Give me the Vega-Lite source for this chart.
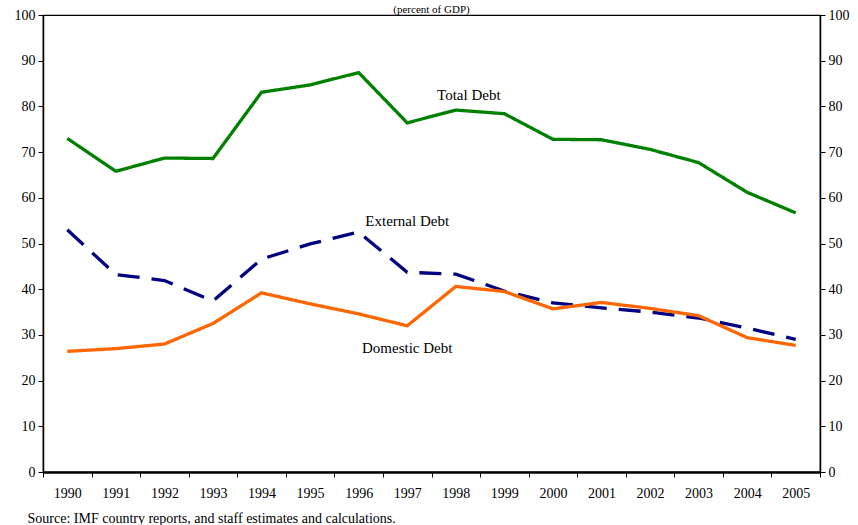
{
  "$schema": "https://vega.github.io/schema/vega-lite/v6.json",
  "width": 777,
  "height": 457,
  "autosize": {"type": "none"},
  "padding": {"left": 43, "top": 15, "right": 38, "bottom": 53},
  "background": "white",
  "config": {
    "font": "Liberation Serif",
    "view": {"stroke": "black", "strokeWidth": 1.2},
    "axis": {"labelFont": "Liberation Serif", "labelFontSize": 14, "labelColor": "black", "domainColor": "black", "tickColor": "black", "grid": false}
  },
  "title": {"text": "(percent of GDP)", "fontSize": 11, "fontWeight": "normal", "font": "Liberation Serif", "color": "black", "offset": -18, "baseline": "bottom"},
  "datasets": {
    "debt": [
      {"year": "1990", "series": "Total Debt", "value": 73.0},
      {"year": "1991", "series": "Total Debt", "value": 65.8},
      {"year": "1992", "series": "Total Debt", "value": 68.7},
      {"year": "1993", "series": "Total Debt", "value": 68.6},
      {"year": "1994", "series": "Total Debt", "value": 83.1},
      {"year": "1995", "series": "Total Debt", "value": 84.7},
      {"year": "1996", "series": "Total Debt", "value": 87.4},
      {"year": "1997", "series": "Total Debt", "value": 76.4},
      {"year": "1998", "series": "Total Debt", "value": 79.2},
      {"year": "1999", "series": "Total Debt", "value": 78.4},
      {"year": "2000", "series": "Total Debt", "value": 72.8},
      {"year": "2001", "series": "Total Debt", "value": 72.7},
      {"year": "2002", "series": "Total Debt", "value": 70.6},
      {"year": "2003", "series": "Total Debt", "value": 67.7},
      {"year": "2004", "series": "Total Debt", "value": 61.2},
      {"year": "2005", "series": "Total Debt", "value": 56.7},
      {"year": "1990", "series": "External Debt", "value": 53.0},
      {"year": "1991", "series": "External Debt", "value": 43.2},
      {"year": "1992", "series": "External Debt", "value": 41.9},
      {"year": "1993", "series": "External Debt", "value": 37.4},
      {"year": "1994", "series": "External Debt", "value": 46.6},
      {"year": "1995", "series": "External Debt", "value": 49.9},
      {"year": "1996", "series": "External Debt", "value": 52.5},
      {"year": "1997", "series": "External Debt", "value": 43.7},
      {"year": "1998", "series": "External Debt", "value": 43.3},
      {"year": "1999", "series": "External Debt", "value": 39.6},
      {"year": "2000", "series": "External Debt", "value": 37.0},
      {"year": "2001", "series": "External Debt", "value": 35.9},
      {"year": "2002", "series": "External Debt", "value": 35.0},
      {"year": "2003", "series": "External Debt", "value": 33.7},
      {"year": "2004", "series": "External Debt", "value": 31.5},
      {"year": "2005", "series": "External Debt", "value": 29.0},
      {"year": "1990", "series": "Domestic Debt", "value": 26.4},
      {"year": "1991", "series": "Domestic Debt", "value": 27.0},
      {"year": "1992", "series": "Domestic Debt", "value": 28.0},
      {"year": "1993", "series": "Domestic Debt", "value": 32.5},
      {"year": "1994", "series": "Domestic Debt", "value": 39.2},
      {"year": "1995", "series": "Domestic Debt", "value": 36.8},
      {"year": "1996", "series": "Domestic Debt", "value": 34.6},
      {"year": "1997", "series": "Domestic Debt", "value": 32.0},
      {"year": "1998", "series": "Domestic Debt", "value": 40.6},
      {"year": "1999", "series": "Domestic Debt", "value": 39.5},
      {"year": "2000", "series": "Domestic Debt", "value": 35.7},
      {"year": "2001", "series": "Domestic Debt", "value": 37.1},
      {"year": "2002", "series": "Domestic Debt", "value": 35.8},
      {"year": "2003", "series": "Domestic Debt", "value": 34.2},
      {"year": "2004", "series": "Domestic Debt", "value": 29.4},
      {"year": "2005", "series": "Domestic Debt", "value": 27.7}
    ],
    "labels": [
      {"year": "1998", "value": 82.5, "label": "Total Debt"},
      {"year": "1997", "value": 54.9, "label": "External Debt"},
      {"year": "1997", "value": 27.1, "label": "Domestic Debt"}
    ]
  },
  "layer": [
    {
      "data": {"name": "debt"},
      "mark": {"type": "line", "strokeWidth": 3.3},
      "encoding": {
        "x": {
          "field": "year", "type": "ordinal", "bandPosition": 0.5,
          "scale": {"type": "band", "paddingInner": 0, "paddingOuter": 0},
          "axis": {
            "labelAngle": 0, "tickBand": "extent", "tickSize": 5, "labelPadding": 9,
            "domainWidth": 2.5, "tickWidth": 1,
            "title": "Source: IMF country reports, and staff estimates and calculations.",
            "titleFont": "Liberation Serif", "titleFontSize": 14, "titleFontWeight": "normal", "titleColor": "black",
            "titleAnchor": "start", "titleAlign": "left", "titleX": -16, "titleY": 50, "titleBaseline": "alphabetic"
          }
        },
        "y": {
          "field": "value", "type": "quantitative",
          "scale": {"domain": [0, 100], "nice": false},
          "axis": {"orient": "left", "values": [0,10,20,30,40,50,60,70,80,90,100], "tickSize": 5, "labelPadding": 3, "title": null, "domainWidth": 1.5}
        },
        "color": {
          "field": "series", "type": "nominal",
          "scale": {"domain": ["Total Debt", "External Debt", "Domestic Debt"], "range": ["#008000", "#000080", "#ff6600"]},
          "legend": null
        },
        "strokeDash": {
          "field": "series", "type": "nominal",
          "scale": {"domain": ["Total Debt", "External Debt", "Domestic Debt"], "range": [[1, 0], [22, 12], [1, 0]]},
          "legend": null
        },
        "order": {"field": "year"}
      }
    },
    {
      "data": {"name": "labels"},
      "transform": [{"filter": "datum.label !== 'Total Debt'"}],
      "mark": {"type": "text", "font": "Liberation Serif", "fontSize": 15, "color": "black", "align": "center", "baseline": "middle"},
      "encoding": {
        "x": {"field": "year", "type": "ordinal", "bandPosition": 0.5},
        "y": {
          "field": "value", "type": "quantitative",
          "axis": {"orient": "right", "values": [0,10,20,30,40,50,60,70,80,90,100], "tickSize": 5, "labelPadding": 3, "title": null, "domainWidth": 1.5}
        },
        "text": {"field": "label"}
      }
    },
    {
      "data": {"name": "labels"},
      "transform": [{"filter": "datum.label === 'Total Debt'"}],
      "mark": {"type": "text", "font": "Liberation Serif", "fontSize": 15, "color": "black", "align": "center", "baseline": "middle", "dx": 13},
      "encoding": {
        "x": {"field": "year", "type": "ordinal", "bandPosition": 0.5},
        "y": {"field": "value", "type": "quantitative", "axis": null},
        "text": {"field": "label"}
      }
    }
  ],
  "resolve": {"axis": {"y": "independent"}}
}
